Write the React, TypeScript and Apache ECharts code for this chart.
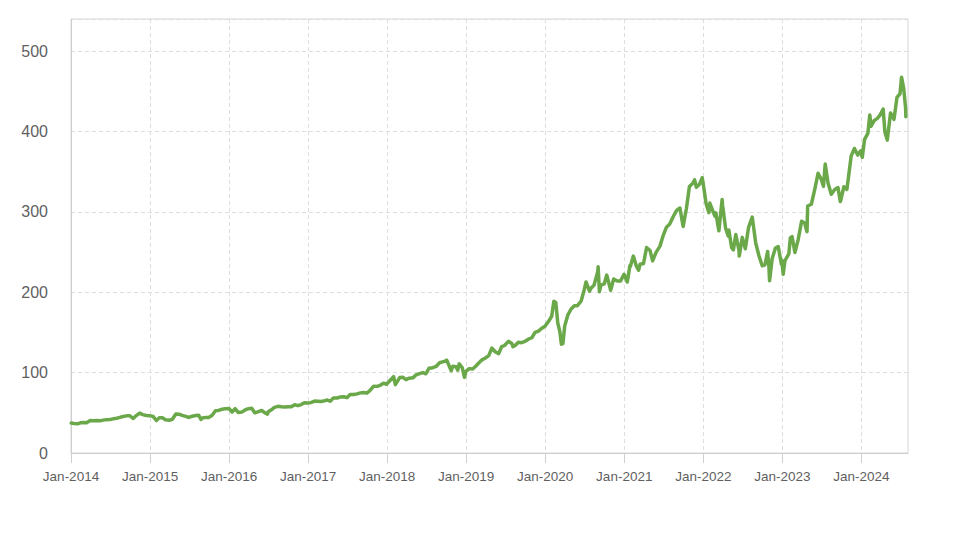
import React, { useEffect, useRef } from "react";
import * as echarts from "echarts";

// Trading dates (roughly semi-monthly plus notable turning points) and closing prices
const dates: string[] = [
  "2014-01-02","2014-01-15","2014-02-03","2014-02-14","2014-03-03","2014-03-14","2014-03-31","2014-04-15","2014-04-30","2014-05-15","2014-05-30","2014-06-13","2014-06-30","2014-07-15","2014-07-31","2014-08-15","2014-08-29","2014-09-15","2014-09-30","2014-10-15","2014-10-31","2014-11-14","2014-11-28","2014-12-15","2014-12-31",
  "2015-01-15","2015-01-30","2015-02-13","2015-02-27","2015-03-13","2015-03-31","2015-04-15","2015-04-30","2015-05-15","2015-05-29","2015-06-15","2015-06-30","2015-07-15","2015-07-31","2015-08-14","2015-08-24","2015-08-31","2015-09-15","2015-09-30","2015-10-15","2015-10-30","2015-11-13","2015-11-30","2015-12-15","2015-12-31",
  "2016-01-15","2016-01-29","2016-02-12","2016-02-29","2016-03-15","2016-03-31","2016-04-15","2016-04-29","2016-05-13","2016-05-31","2016-06-15","2016-06-27","2016-06-30","2016-07-15","2016-07-29","2016-08-15","2016-08-31","2016-09-15","2016-09-30","2016-10-14","2016-10-31","2016-11-15","2016-11-30","2016-12-15","2016-12-30",
  "2017-01-13","2017-01-31","2017-02-15","2017-02-28","2017-03-15","2017-03-31","2017-04-13","2017-04-28","2017-05-15","2017-05-31","2017-06-15","2017-06-30","2017-07-14","2017-07-31","2017-08-15","2017-08-31","2017-09-15","2017-09-29","2017-10-13","2017-10-31","2017-11-15","2017-11-30","2017-12-15","2017-12-29",
  "2018-01-12","2018-01-31","2018-02-08","2018-02-28","2018-03-15","2018-03-29","2018-04-13","2018-04-30","2018-05-15","2018-05-31","2018-06-15","2018-06-29","2018-07-13","2018-07-31","2018-08-15","2018-08-31","2018-09-14","2018-09-28","2018-10-03","2018-10-24","2018-10-31","2018-11-15","2018-11-23","2018-11-30","2018-12-14","2018-12-24","2018-12-31",
  "2019-01-15","2019-01-31","2019-02-15","2019-02-28","2019-03-15","2019-03-29","2019-04-15","2019-04-30","2019-05-15","2019-05-31","2019-06-14","2019-06-28","2019-07-15","2019-07-31","2019-08-05","2019-08-15","2019-08-30","2019-09-13","2019-09-30","2019-10-15","2019-10-31","2019-11-15","2019-11-29","2019-12-13","2019-12-31",
  "2020-01-15","2020-01-31","2020-02-10","2020-02-19","2020-02-28","2020-03-09","2020-03-16","2020-03-23","2020-03-31","2020-04-15","2020-04-30","2020-05-15","2020-05-29","2020-06-15","2020-06-30","2020-07-08","2020-07-15","2020-07-24","2020-07-31","2020-08-14","2020-08-31","2020-09-02","2020-09-08","2020-09-15","2020-09-30","2020-10-12","2020-10-30","2020-11-13","2020-11-30","2020-12-15","2020-12-31",
  "2021-01-15","2021-01-27","2021-01-29","2021-02-12","2021-02-26","2021-03-08","2021-03-15","2021-03-31","2021-04-14","2021-04-30","2021-05-12","2021-05-28","2021-06-15","2021-06-30","2021-07-15","2021-07-30","2021-08-16","2021-08-31","2021-09-15","2021-09-30","2021-10-15","2021-10-29","2021-11-15","2021-11-22","2021-11-30","2021-12-15","2021-12-27","2021-12-31",
  "2022-01-14","2022-01-27","2022-01-31","2022-02-15","2022-02-24","2022-02-28","2022-03-14","2022-03-29","2022-03-31","2022-04-14","2022-04-26","2022-04-29","2022-05-12","2022-05-20","2022-05-31","2022-06-15","2022-06-16","2022-06-30","2022-07-14","2022-07-29","2022-08-15","2022-08-31","2022-09-15","2022-09-30","2022-10-13","2022-10-25","2022-10-31","2022-11-03","2022-11-15","2022-11-30","2022-12-13","2022-12-28","2022-12-30",
  "2023-01-05","2023-01-13","2023-01-31","2023-02-07","2023-02-15","2023-02-28","2023-03-15","2023-03-31","2023-04-14","2023-04-25","2023-04-28","2023-05-15","2023-05-31","2023-06-15","2023-06-30","2023-07-10","2023-07-18","2023-07-31","2023-08-15","2023-08-31","2023-09-15","2023-09-26","2023-09-29","2023-10-12","2023-10-26","2023-10-31","2023-11-15","2023-11-30","2023-12-15","2023-12-29",
  "2024-01-05","2024-01-16","2024-01-31","2024-02-09","2024-02-15","2024-02-29","2024-03-15","2024-03-28","2024-04-11","2024-04-19","2024-04-30","2024-05-15","2024-05-31","2024-06-14","2024-06-28","2024-07-05","2024-07-15","2024-07-24","2024-07-25"
];

const prices: number[] = [
  37.2,36.8,36.4,37.6,38.0,37.7,40.5,40.0,40.4,40.2,40.9,41.5,41.7,42.5,43.2,44.3,45.4,46.2,46.4,42.9,46.9,49.6,47.8,46.7,46.5,
  45.5,40.4,43.9,43.9,41.4,40.7,42.3,48.6,48.3,46.9,45.5,44.2,45.8,46.7,47.0,41.7,43.5,44.3,44.3,47.0,52.6,53.0,54.4,55.2,55.5,
  51.0,55.1,50.5,50.9,53.6,55.2,55.6,49.9,51.1,53.0,49.8,48.4,51.2,53.7,56.7,58.1,57.5,57.2,57.6,57.4,60.0,58.9,60.3,62.6,62.1,
  62.7,64.6,64.5,64.0,64.8,65.9,64.5,68.5,68.4,69.8,70.0,68.9,72.8,72.7,73.6,74.8,75.3,74.5,77.5,83.2,82.9,84.2,86.9,85.5,
  89.6,95.0,85.0,93.8,94.2,91.3,93.1,93.5,97.3,98.8,100.1,98.6,105.4,106.1,107.7,112.3,113.4,114.4,115.6,102.3,108.0,107.3,103.1,110.9,106.0,94.1,101.6,
  105.0,104.4,108.2,112.0,115.9,117.9,121.1,130.6,126.0,123.7,132.5,134.0,138.9,136.3,132.2,133.7,137.9,137.3,139.0,141.6,143.4,150.0,151.4,154.5,157.7,
  163.2,170.2,188.7,187.3,162.0,150.6,135.4,136.0,157.7,171.9,179.2,183.2,183.3,188.9,203.5,212.8,208.0,201.3,205.0,208.9,225.5,231.7,200.7,208.8,210.3,221.4,202.5,216.5,214.1,214.1,222.4,
  212.7,232.9,232.0,245.0,232.4,227.4,234.8,235.8,255.6,252.2,239.0,249.7,257.4,270.9,281.0,284.9,294.6,301.9,304.8,281.9,304.2,331.6,336.1,339.8,330.6,334.7,342.5,336.3,
  310.2,299.0,311.0,300.5,294.6,298.8,276.4,315.4,308.3,279.8,270.2,277.5,255.4,252.6,271.9,251.8,245.0,268.3,254.1,280.7,293.5,261.5,245.4,232.9,234.2,250.7,232.1,214.3,241.7,255.1,256.9,234.5,239.8,
  222.3,239.2,247.8,267.6,269.3,249.4,265.4,288.3,286.1,275.4,307.3,309.5,328.4,348.1,340.5,331.8,359.5,335.9,321.9,327.8,330.2,312.8,315.8,331.2,327.9,338.1,369.7,378.9,370.7,376.0,
  367.8,390.3,397.6,420.6,406.6,413.6,416.4,420.7,427.9,399.1,389.3,423.1,415.1,442.6,447.0,467.6,453.6,428.9,418.4
];

const yearTicks: number[] = [2014, 2015, 2016, 2017, 2018, 2019, 2020, 2021, 2022, 2023, 2024];

function toDecimalYear(s: string): number {
  const [y, m, d] = s.split("-").map(Number);
  const start = Date.UTC(y, 0, 1);
  const end = Date.UTC(y + 1, 0, 1);
  return y + (Date.UTC(y, m - 1, d) - start) / (end - start);
}

export default function App() {
  const ref = useRef<HTMLDivElement>(null);

  useEffect(() => {
    document.body.style.margin = "0";
    if (!ref.current) return;
    const chart = echarts.init(ref.current, undefined, { renderer: "svg" });
    const seriesData = dates.map((d, i) => [toDecimalYear(d), prices[i]]);
    const font = "'Liberation Sans', Arial, sans-serif";
    chart.setOption({
      animation: false,
      backgroundColor: "#ffffff",
      grid: {
        left: 71,
        top: 19,
        right: 65,
        bottom: 94,
        show: true,
        borderColor: "#d6d6d6",
        borderWidth: 1,
        backgroundColor: "transparent",
      },
      xAxis: {
        type: "value",
        min: 2014,
        max: 2024.59,
        interval: 1,
        axisLine: { show: true, lineStyle: { color: "#cfcfcf", width: 1 } },
        axisTick: {
          show: true,
          length: 10,
          customValues: yearTicks,
          lineStyle: { color: "#cfcfcf" },
        },
        axisLabel: {
          customValues: yearTicks,
          showMaxLabel: true,
          showMinLabel: true,
          margin: 16,
          color: "#5f5f5f",
          fontSize: 13.5,
          fontFamily: font,
          formatter: (v: number) => `Jan-${Math.round(v)}`,
        },
        splitLine: {
          show: true,
          lineStyle: { color: "#dedede", type: [4, 3], width: 1 },
        },
      },
      yAxis: {
        type: "value",
        min: 0,
        max: 540,
        interval: 100,
        axisLine: { show: true, lineStyle: { color: "#cfcfcf", width: 1 } },
        axisTick: { show: false },
        axisLabel: {
          showMaxLabel: false,
          margin: 23,
          color: "#5f5f5f",
          fontSize: 16,
          fontFamily: font,
        },
        splitLine: {
          show: true,
          lineStyle: { color: "#dedede", type: [4, 3], width: 1 },
        },
      },
      series: [
        {
          type: "line",
          data: seriesData,
          showSymbol: false,
          symbol: "none",
          lineStyle: { color: "#6aa84a", width: 3.5, join: "round", cap: "round" },
          itemStyle: { color: "#6aa84a" },
        },
      ],
    });
    return () => chart.dispose();
  }, []);

  return <div ref={ref} style={{ width: 973, height: 547 }} />;
}
